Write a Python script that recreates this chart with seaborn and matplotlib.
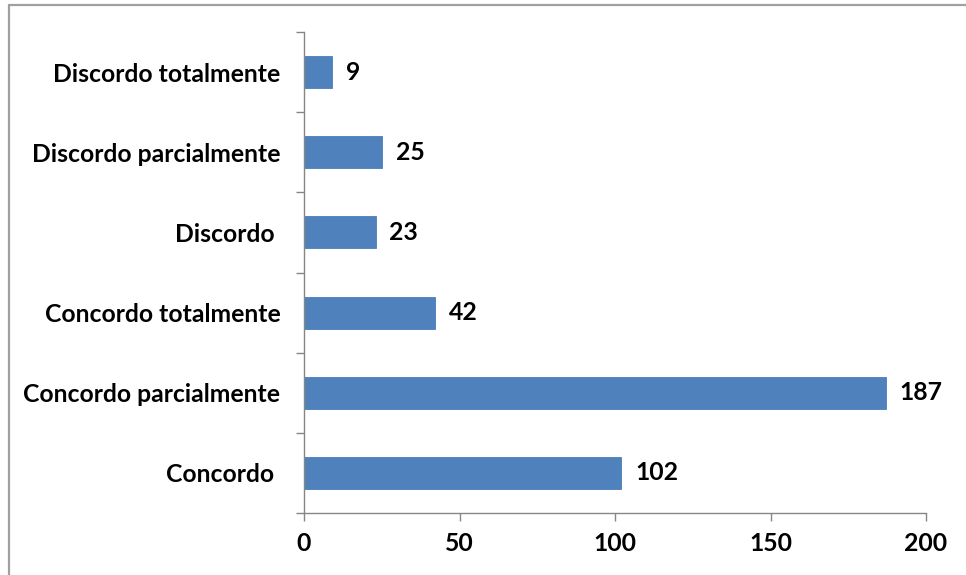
import matplotlib
matplotlib.use("Agg")
import matplotlib.pyplot as plt
from matplotlib.lines import Line2D
from matplotlib.ticker import FixedLocator, NullFormatter
import seaborn as sns
import pandas as pd

categories = [
    "Discordo totalmente",
    "Discordo parcialmente",
    "Discordo ",
    "Concordo totalmente",
    "Concordo parcialmente",
    "Concordo ",
]
counts = [9, 25, 23, 42, 187, 102]
x_ticks = [0, 50, 100, 150, 200]

sns.set_theme(style="white")
plt.rcParams["font.family"] = ["Lato", "DejaVu Sans"]

df = pd.DataFrame({"resposta": categories, "n": counts})

W, H = 966, 575
FS = 17.8
fig = plt.figure(figsize=(W / 100, H / 100), dpi=100)
ax = fig.add_axes([304 / W, 1 - 513 / H, (926 - 304) / W, (513 - 32) / H])

sns.barplot(data=df, x="n", y="resposta", order=categories, color="#4F81BD",
            width=0.4, saturation=1, ax=ax, edgecolor="#4A7EBB", linewidth=0.6)

grey = "#868686"
ax.set_xlim(0, 200)
ax.set_ylim(len(categories) - 0.5, -0.5)
ax.set_xticks(x_ticks)
ax.set_xticklabels([str(t) for t in x_ticks])
ax.set_xlabel("")
ax.set_ylabel("")

# category ticks sit on the boundaries between bars
ax.yaxis.set_minor_locator(FixedLocator([i - 0.5 for i in range(len(categories) + 1)]))
ax.yaxis.set_minor_formatter(NullFormatter())
ax.tick_params(axis="y", which="major", length=0, pad=17, labelsize=FS, labelcolor="black")
ax.tick_params(axis="y", which="minor", left=True, length=6, width=1, color=grey, direction="out")
ax.tick_params(axis="x", which="major", bottom=True, length=6, width=1, color=grey,
               direction="out", pad=8, labelsize=FS, labelcolor="black")
for lab in ax.get_yticklabels() + ax.get_xticklabels():
    lab.set_fontweight("bold")

for side in ("top", "right"):
    ax.spines[side].set_visible(False)
for side in ("left", "bottom"):
    ax.spines[side].set_color(grey)
    ax.spines[side].set_linewidth(1)

for i, v in enumerate(counts):
    ax.annotate(str(v), xy=(v, i), xytext=(10, 0), textcoords="offset points",
                va="center", ha="left", fontsize=FS, fontweight="bold", color="black")

# outer chart frame
fig.add_artist(Line2D([9 / W, 1], [1 - 5 / H, 1 - 5 / H], transform=fig.transFigure,
                      color="#A0A0A0", linewidth=1.6))
fig.add_artist(Line2D([9 / W, 9 / W], [0, 1 - 5 / H], transform=fig.transFigure,
                      color="#A0A0A0", linewidth=1.6))

fig.savefig("out.png", dpi=100)
